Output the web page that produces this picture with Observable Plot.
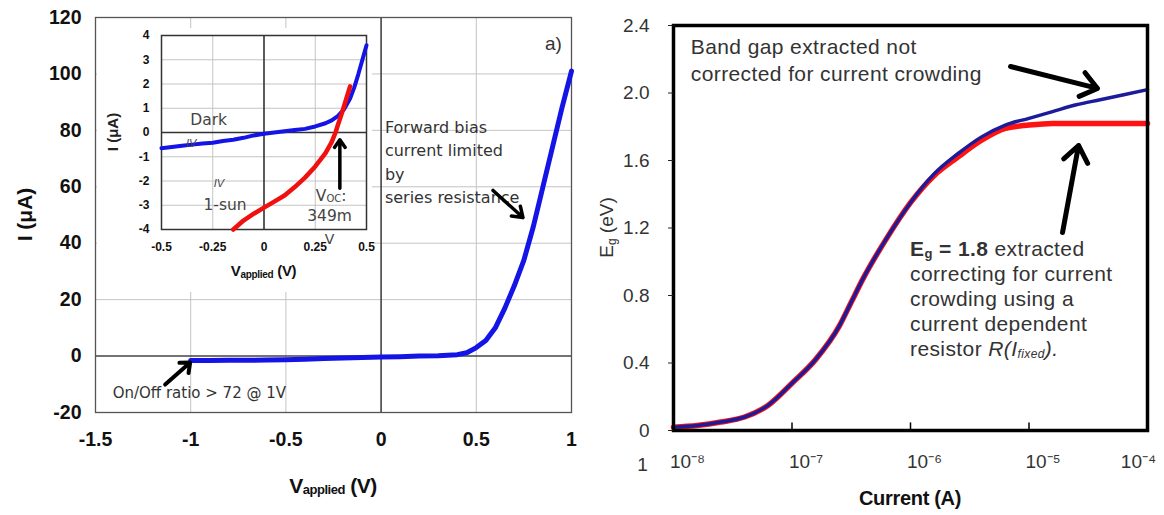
<!DOCTYPE html>
<html><head><meta charset="utf-8">
<script src="https://cdn.jsdelivr.net/npm/d3@7"></script>
<script src="https://cdn.jsdelivr.net/npm/@observablehq/plot@0.6"></script>
<style>
body{margin:0;background:#fff;}
#wrap{position:relative;width:1164px;height:515px;overflow:hidden;background:#fff;}
#wrap svg{position:absolute;overflow:visible;}
</style></head><body><div id="wrap"></div>
<script>
// ---------- data ----------
const ivVoltage = [-1, -0.9, -0.8, -0.7, -0.6, -0.5, -0.4, -0.3, -0.2, -0.1, 0, 0.1, 0.2, 0.3, 0.4, 0.45, 0.5, 0.55, 0.6, 0.65, 0.7, 0.75, 0.8, 0.85, 0.9, 0.95, 1.0];
const ivCurrent = [-1.6, -1.6, -1.5, -1.5, -1.4, -1.3, -1.1, -0.9, -0.7, -0.5, -0.3, -0.2, 0, 0.1, 0.5, 1.2, 3, 5.5, 10, 17, 25, 34, 46, 60, 74, 88, 101];

const insetDarkV = [-0.5, -0.45, -0.4, -0.35, -0.3, -0.25, -0.2, -0.15, -0.1, -0.05, 0, 0.05, 0.1, 0.15, 0.2, 0.25, 0.3, 0.33, 0.36, 0.39, 0.42, 0.44, 0.46, 0.48, 0.5];
const insetDarkI = [-0.65, -0.6, -0.55, -0.5, -0.45, -0.42, -0.35, -0.3, -0.22, -0.12, -0.05, 0, 0.05, 0.1, 0.15, 0.25, 0.38, 0.5, 0.68, 0.95, 1.4, 1.85, 2.4, 3.0, 3.6];
const insetSunV = [-0.15, -0.1, -0.05, 0, 0.05, 0.1, 0.15, 0.2, 0.25, 0.3, 0.33, 0.349, 0.36, 0.38, 0.40, 0.42];
const insetSunI = [-4, -3.63, -3.35, -3.1, -2.85, -2.6, -2.25, -1.86, -1.4, -0.85, -0.4, 0, 0.3, 0.8, 1.35, 1.9];

const egCurrent = [1e-8, 1.58e-8, 2.51e-8, 3.98e-8, 6.31e-8, 1e-7, 1.58e-7, 2.51e-7, 3.16e-7, 3.98e-7, 6.31e-7, 1e-6, 1.58e-6, 2.51e-6, 3.98e-6, 6.31e-6, 1e-5, 1.58e-5, 2.51e-5, 3.98e-5, 6.31e-5, 1e-4];
const egUncorrected = [0.02, 0.03, 0.05, 0.08, 0.15, 0.28, 0.42, 0.62, 0.76, 0.9, 1.14, 1.35, 1.52, 1.64, 1.74, 1.81, 1.85, 1.89, 1.93, 1.96, 1.99, 2.02];
const egCorrected = [0.02, 0.03, 0.05, 0.08, 0.15, 0.28, 0.42, 0.62, 0.76, 0.9, 1.14, 1.35, 1.51, 1.62, 1.72, 1.79, 1.81, 1.82, 1.82, 1.82, 1.82, 1.82];

const leftXTicks = [-1.5, -1, -0.5, 0, 0.5, 1];
const leftYTicks = [-20, 0, 20, 40, 60, 80, 100, 120];
const insetXTicks = [-0.5, -0.25, 0, 0.25, 0.5];
const insetXTickLabels = ["-0.5", "-0.25", "0", "0.25", "0.5"];
const insetYTicks = [-4, -3, -2, -1, 0, 1, 2, 3, 4];
const rightYTicks = [0, 0.4, 0.8, 1.2, 1.6, 2.0, 2.4];
const rightYTickLabels = ["0", "0.4", "0.8", "1.2", "1.6", "2.0", "2.4"];
const rightXTicks = [1e-8, 1e-7, 1e-6, 1e-5, 1e-4];
const rightXTickLabels = ["10⁻⁸", "10⁻⁷", "10⁻⁶", "10⁻⁵", "10⁻⁴"];

// ---------- helpers ----------
const zip = (xs, ys) => xs.map((x, i) => ({x, y: ys[i]}));
const hyphen = d => String(d);
const SANS = "'Liberation Sans', Arial, sans-serif";
const WIDE = "'DejaVu Sans', Verdana, sans-serif";
const wrap = document.getElementById("wrap");
function place(svg, left, top) { svg.style.left = left + "px"; svg.style.top = top + "px"; wrap.appendChild(svg); }
function rich(svg, x, y, parts, o = {}) {
  const t = d3.select(svg).append("text")
    .attr("x", x).attr("y", y)
    .attr("text-anchor", o.anchor || "start")
    .attr("dominant-baseline", "middle")
    .attr("font-size", o.size || 16)
    .attr("font-family", o.family || SANS)
    .attr("font-weight", o.weight || "normal")
    .attr("letter-spacing", o.spacing || 0)
    .attr("fill", o.fill || "#222");
  if (o.rotate) t.attr("transform", `rotate(${o.rotate},${x},${y})`);
  for (const p of parts) {
    const s = t.append("tspan").text(p.t);
    if (p.size) s.attr("font-size", p.size);
    if (p.weight) s.attr("font-weight", p.weight);
    if (p.italic) s.attr("font-style", "italic");
    if (p.dy) s.attr("dy", p.dy);
  }
  return t;
}

// ---------- left main chart ----------
const left = Plot.plot({
  width: 600, height: 515,
  marginLeft: 95, marginRight: 29, marginTop: 17, marginBottom: 103,
  style: {fontFamily: SANS, background: "transparent", color: "#111", overflow: "visible"},
  x: {domain: [-1.5, 1]},
  y: {domain: [-20, 120]},
  marks: [
    Plot.gridX([-1, -0.5, 0.5], {stroke: "#c4c4c4", strokeOpacity: 1}),
    Plot.gridY([20, 40, 60, 80, 100], {stroke: "#c4c4c4", strokeOpacity: 1}),
    Plot.ruleX([0], {stroke: "#444", strokeWidth: 1.6}),
    Plot.ruleY([0], {stroke: "#444", strokeWidth: 1.6}),
    Plot.frame({stroke: "#555", strokeWidth: 1.3}),
    Plot.axisX(leftXTicks, {tickSize: 0, tickPadding: 20, fontSize: 19.5, fontWeight: "bold", tickFormat: hyphen, label: null}),
    Plot.axisY(leftYTicks, {tickSize: 0, tickPadding: 14, fontSize: 19.5, fontWeight: "bold", tickFormat: hyphen, label: null}),
    Plot.line(zip(ivVoltage, ivCurrent), {x: "x", y: "y", stroke: "#1414e6", strokeWidth: 5}),
    Plot.text(["a)"], {x: 0.905, y: 110.8, fontSize: 19, fill: "#333"}),
    Plot.text(["Forward bias\ncurrent limited\nby\nseries resistance"], {x: 0.02, y: 69.3, textAnchor: "start", lineHeight: 1.45, fontSize: 16, fontFamily: WIDE, letterSpacing: 0.3, fill: "#333"}),
    Plot.arrow([0], {x1: 0.588, y1: 58.7, x2: 0.745, y2: 49.1, stroke: "#000", strokeWidth: 3.5, headLength: 5, headAngle: 70}),
    Plot.text(["On/Off ratio > 72 @ 1V"], {x: -1.41, y: -13.3, textAnchor: "start", fontSize: 15, fontFamily: WIDE, fill: "#333"}),
    Plot.arrow([0], {x1: -1.134, y1: -10.1, x2: -1.003, y2: -2.3, stroke: "#000", strokeWidth: 4, headLength: 4, headAngle: 80})
  ]
});
place(left, 0, 0);
{
  const xs = left.scale("x"), ys = left.scale("y");
  const cx = (xs.range[0] + xs.range[1]) / 2, cy = (ys.range[0] + ys.range[1]) / 2;
  rich(left, cx, 487, [{t: "V"}, {t: "applied", size: 13, dy: 4}, {t: " (V)", dy: -4}], {anchor: "middle", size: 21, weight: "bold", fill: "#111", spacing: -0.5});
  rich(left, 26, cy, [{t: "I (μA)"}], {anchor: "middle", size: 21, weight: "bold", fill: "#111", rotate: -90});
}

// ---------- inset ----------
const inset = Plot.plot({
  width: 275, height: 264,
  marginLeft: 64, marginRight: 6, marginTop: 7, marginBottom: 63,
  style: {fontFamily: SANS, background: "#fff", color: "#111", overflow: "visible"},
  x: {domain: [-0.5, 0.5]},
  y: {domain: [-4, 4]},
  marks: [
    Plot.gridX([-0.25, 0.25], {stroke: "#c4c4c4", strokeOpacity: 1}),
    Plot.gridY([-3, -2, -1, 1, 2, 3], {stroke: "#c4c4c4", strokeOpacity: 1}),
    Plot.ruleX([0], {stroke: "#333", strokeWidth: 1.6}),
    Plot.ruleY([0], {stroke: "#333", strokeWidth: 1.6}),
    Plot.frame({stroke: "#333", strokeWidth: 1.5}),
    Plot.axisX(insetXTicks, {tickSize: 0, tickPadding: 13, fontSize: 12, fontWeight: "bold", tickFormat: (d, i) => insetXTickLabels[i], label: null}),
    Plot.axisY(insetYTicks, {tickSize: 0, tickPadding: 12, fontSize: 12, fontWeight: "bold", tickFormat: hyphen, label: null}),
    Plot.line(zip(insetDarkV, insetDarkI), {x: "x", y: "y", stroke: "#1414e6", strokeWidth: 4}),
    Plot.line(zip(insetSunV, insetSunI), {x: "x", y: "y", stroke: "#f01010", strokeWidth: 4.5}),
    Plot.text(["Dark"], {x: -0.27, y: 0.5, fontSize: 15.5, fontFamily: WIDE, fill: "#444"}),
    Plot.text(["IV"], {x: -0.355, y: -0.45, fontSize: 11, fontStyle: "italic", fill: "#444"}),
    Plot.text(["IV"], {x: -0.22, y: -2.1, fontSize: 11, fontStyle: "italic", fill: "#444"}),
    Plot.text(["1-sun"], {x: -0.19, y: -3.0, fontSize: 15.5, fontFamily: WIDE, fill: "#444"}),
    Plot.text(["349m"], {x: 0.32, y: -3.45, fontSize: 15.5, fontFamily: WIDE, fill: "#444"}),
    Plot.text(["V"], {x: 0.32, y: -4.4, fontSize: 14, fontFamily: WIDE, fill: "#444"}),
    Plot.arrow([0], {x1: 0.37, y1: -2.3, x2: 0.37, y2: -0.3, stroke: "#000", strokeWidth: 3.5, headLength: 4, headAngle: 70})
  ]
});
place(inset, 97, 28);
{
  const xs = inset.scale("x"), ys = inset.scale("y");
  const cx = (xs.range[0] + xs.range[1]) / 2, cy = (ys.range[0] + ys.range[1]) / 2;
  rich(inset, cx, 244, [{t: "V"}, {t: "applied", size: 10, dy: 3}, {t: " (V)", dy: -3}], {anchor: "middle", size: 15, weight: "bold", fill: "#111", spacing: -0.3});
  rich(inset, 17, cy, [{t: "I (μA)"}], {anchor: "middle", size: 15, weight: "bold", fill: "#222", rotate: -90});
  rich(inset, xs.apply(0.33), ys.apply(-2.62), [{t: "V"}, {t: "OC", size: 10, dy: 3}, {t: ":", dy: -3}], {anchor: "middle", size: 15.5, family: WIDE, fill: "#444"});
}

// ---------- right chart ----------
const right = Plot.plot({
  width: 564, height: 515,
  marginLeft: 73, marginRight: 17, marginTop: 25, marginBottom: 85,
  style: {fontFamily: SANS, background: "transparent", color: "#222", overflow: "visible"},
  x: {type: "log", domain: [1e-8, 1e-4], axis: null},
  y: {domain: [0, 2.4]},
  marks: [
    Plot.line(zip(egCurrent, egCorrected), {x: "x", y: "y", stroke: "#ff1212", strokeWidth: 5.5, curve: "monotone-x"}),
    Plot.line(zip(egCurrent, egUncorrected), {x: "x", y: "y", stroke: "#1c1c9a", strokeWidth: 3.5, curve: "monotone-x"}),
    Plot.ruleX(rightXTicks.slice(1, 4), {y1: 0, y2: 0.045, stroke: "#000", strokeWidth: 1.5}),
    Plot.frame({stroke: "#000", strokeWidth: 3.5}),
    Plot.axisY(rightYTicks, {tickSize: 5, tickPadding: 19, fontSize: 19, tickFormat: (d, i) => rightYTickLabels[i], label: null, fill: "#333"}),
    Plot.text(rightXTicks.slice(0, 4), {x: d => d, y: 0, text: (d, i) => rightXTickLabels[i], dy: 31, dx: 14, fontSize: 19, fill: "#333"}),
    Plot.text(rightXTicks.slice(4), {x: d => d, y: 0, text: () => rightXTickLabels[4], dy: 31, dx: -9, fontSize: 19, fill: "#333"}),
    Plot.text(["1"], {x: 1e-8, y: 0, dx: -31, dy: 34, fontSize: 19, fill: "#333"}),
    Plot.arrow([0], {x1: 10 ** -5.156, y1: 2.157, x2: 10 ** -4.422, y2: 2.027, stroke: "#000", strokeWidth: 5, headLength: 6, headAngle: 75}),
    Plot.arrow([0], {x1: 10 ** -4.717, y1: 1.173, x2: 10 ** -4.582, y2: 1.689, stroke: "#000", strokeWidth: 5, headLength: 6, headAngle: 75})
  ]
});
place(right, 600, 0);
{
  const xs = right.scale("x"), ys = right.scale("y");
  const cx = (xs.range[0] + xs.range[1]) / 2, cy = (ys.range[0] + ys.range[1]) / 2;
  rich(right, cx, 500, [{t: "Current (A)"}], {anchor: "middle", size: 20, weight: "bold", fill: "#111", spacing: -0.3});
  rich(right, 8, cy, [{t: "E"}, {t: "g", size: 12, dy: 5}, {t: " (eV)", dy: -5}], {anchor: "middle", size: 19, fill: "#333", rotate: -90});
  const note = {size: 21, fill: "#333", spacing: 0.4};
  const bx = xs.apply(10 ** -7.85), by = ys.apply(2.264);
  rich(right, bx, by, [{t: "Band gap extracted not"}], note);
  rich(right, bx, by + 27, [{t: "corrected for current crowding"}], note);
  const ex = xs.apply(1e-6), ey = ys.apply(1.067);
  rich(right, ex, ey, [{t: "E", weight: "bold"}, {t: "g", size: 13, dy: 5, weight: "bold"}, {t: " = 1.8", dy: -5, weight: "bold"}, {t: " extracted"}], note);
  rich(right, ex, ey + 25, [{t: "correcting for current"}], note);
  rich(right, ex, ey + 50, [{t: "crowding using a"}], note);
  rich(right, ex, ey + 75, [{t: "current dependent"}], note);
  rich(right, ex, ey + 100, [{t: "resistor "}, {t: "R(I", italic: true}, {t: "fixed", italic: true, size: 12, dy: 5}, {t: ").", italic: true, dy: -5}], note);
}
</script></body></html>
